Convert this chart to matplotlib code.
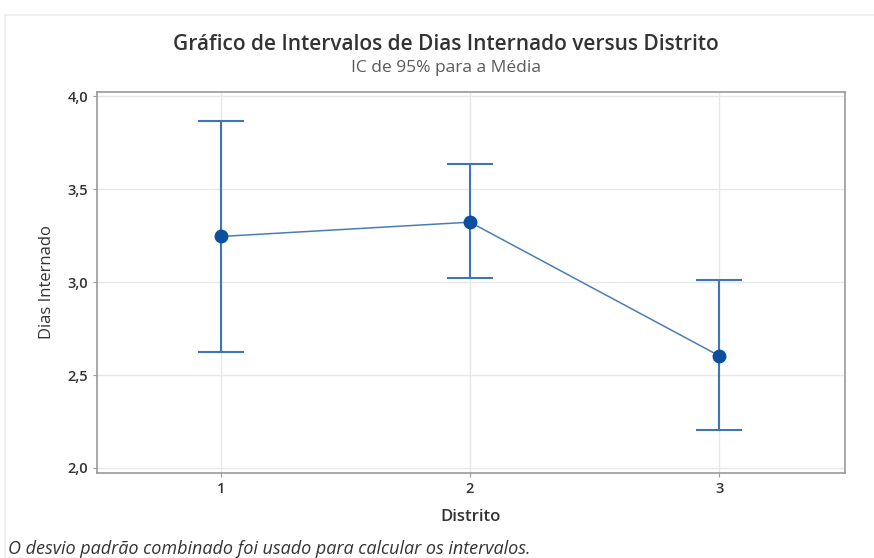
import numpy as np
import matplotlib.pyplot as plt
from matplotlib.lines import Line2D

plt.rcParams['font.family'] = ['Open Sans', 'DejaVu Sans']

# IC de 95% para a média de Dias Internado por Distrito
distrito = [1, 2, 3]
media = [3.245, 3.322, 2.603]
ic_inf = [2.622, 3.020, 2.202]
ic_sup = [3.864, 3.634, 3.009]
yticks = [2.0, 2.5, 3.0, 3.5, 4.0]

fig = plt.figure(figsize=(8.74, 5.58), dpi=100)
ax = fig.add_axes([97 / 874, 1 - 473 / 558, (845 - 97) / 874, (473 - 92) / 558])

media = np.array(media)
erro = [media - np.array(ic_inf), np.array(ic_sup) - media]

ax.errorbar(distrito, media, yerr=erro, fmt='none', ecolor='#3e76b3',
            elinewidth=1.5, capsize=16.5, capthick=1.5, zorder=3)
ax.plot(distrito, media, color='#4a7db5', lw=1.1, zorder=4)
ax.plot(distrito, media, 'o', color='#0b4f9e', ms=9, zorder=5)

ax.set_xlim(0.504, 3.504)
ax.set_ylim(1.973, 4.022)
ax.set_xticks(distrito)
ax.set_xticklabels([str(d) for d in distrito])
ax.set_yticks(yticks)
ax.set_yticklabels([f'{t:.1f}'.replace('.', ',') for t in yticks])

ax.grid(True, color='#e8e8e8', lw=1)
ax.set_axisbelow(True)
for s in ax.spines.values():
    s.set_color('#9a9a9a')
    s.set_linewidth(1.2)
ax.tick_params(colors='#9a9a9a', length=3, labelcolor='#333333', labelsize=10.5)
for lbl in ax.get_xticklabels() + ax.get_yticklabels():
    lbl.set_fontweight('semibold')

ax.set_xlabel('Distrito', fontsize=12, color='#333333', fontweight='semibold', labelpad=9)
ax.set_ylabel('Dias Internado', fontsize=12, color='#333333', labelpad=9)

fig.text(446 / 874, 1 - 45 / 558, 'Gráfico de Intervalos de Dias Internado versus Distrito',
         ha='center', va='center', fontsize=15, color='#333333', fontweight='semibold')
fig.text(446 / 874, 1 - 68 / 558, 'IC de 95% para a Média',
         ha='center', va='center', fontsize=12.5, color='#5a5a5a')
fig.text(8 / 874, 1 - 549 / 558, 'O desvio padrão combinado foi usado para calcular os intervalos.',
         ha='left', va='center', fontsize=13, color='#333333', style='italic')

# moldura clara da janela
fig.add_artist(Line2D([5 / 874, 1], [1 - 15 / 558] * 2, transform=fig.transFigure,
                      color='#ececec', lw=1.2))
fig.add_artist(Line2D([5 / 874] * 2, [0, 1 - 15 / 558], transform=fig.transFigure,
                      color='#ececec', lw=1.2))

fig.savefig('out.png', dpi=100)
